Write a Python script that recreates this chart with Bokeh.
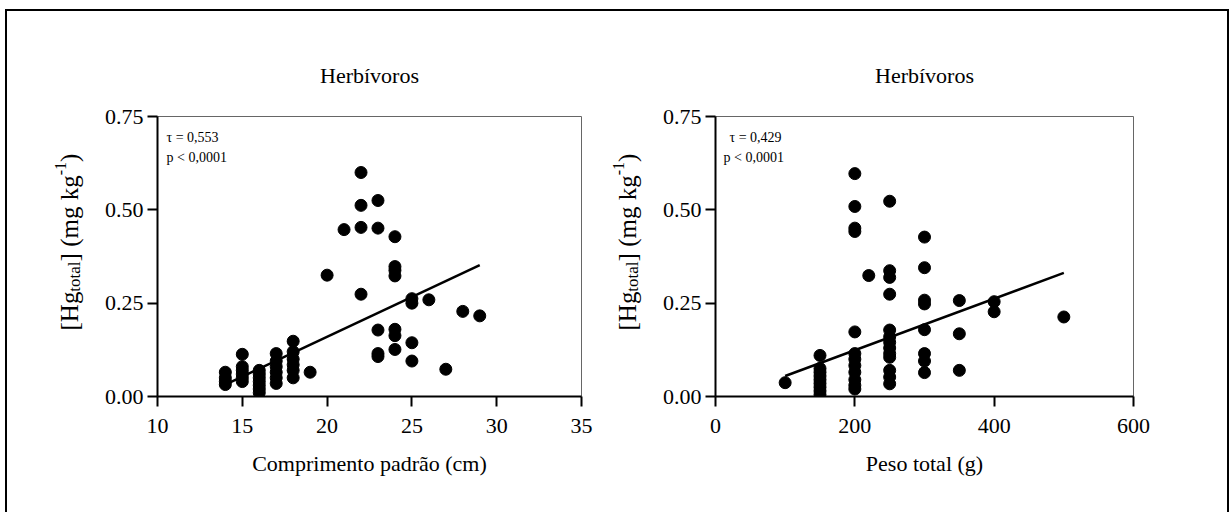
import math

from bokeh.embed import file_html
from bokeh.layouts import row
from bokeh.models import FixedTicker, Label, NumeralTickFormatter, Range1d
from bokeh.plotting import figure
from bokeh.resources import INLINE

FONT = "Liberation Serif"
CANVAS_H = 503
B_TOP = 105
B_BOTTOM = 118

# --- Herbívoros: Hg total vs. comprimento padrão (cm) ---
comp_x = [14, 14, 14, 14,
          15, 15, 15, 15, 15, 15,
          16, 16, 16, 16, 16, 16, 16,
          17, 17, 17, 17, 17, 17,
          18, 18, 18, 18, 18, 18,
          19, 20, 21,
          22, 22, 22, 22,
          23, 23, 23, 23, 23,
          24, 24, 24, 24, 24, 24, 24,
          25, 25, 25, 25,
          26, 27, 28, 29]
comp_hg = [0.065, 0.050, 0.040, 0.032,
           0.113, 0.080, 0.070, 0.060, 0.050, 0.040,
           0.070, 0.060, 0.050, 0.040, 0.030, 0.020, 0.010,
           0.115, 0.095, 0.080, 0.065, 0.050, 0.035,
           0.148, 0.120, 0.100, 0.085, 0.070, 0.050,
           0.065, 0.325, 0.447,
           0.600, 0.512, 0.453, 0.274,
           0.525, 0.451, 0.178, 0.115, 0.107,
           0.428, 0.348, 0.338, 0.323, 0.180, 0.163, 0.126,
           0.262, 0.250, 0.144, 0.095,
           0.259, 0.073, 0.228, 0.216]
comp_fit_x = [14, 29]
comp_fit_hg = [0.032, 0.352]

# --- Herbívoros: Hg total vs. peso total (g) ---
peso_x = [100,
          150, 150, 150, 150, 150, 150, 150, 150, 150,
          200, 200, 200, 200, 200, 200, 200, 200, 200, 200, 200, 200,
          220,
          250, 250, 250, 250, 250, 250, 250, 250, 250, 250, 250, 250, 250,
          300, 300, 300, 300, 300, 300, 300, 300,
          350, 350, 350,
          400, 400,
          500]
peso_hg = [0.037,
           0.110, 0.075, 0.065, 0.055, 0.045, 0.035, 0.025, 0.015, 0.005,
           0.597, 0.509, 0.451, 0.442, 0.173, 0.115, 0.100, 0.083, 0.065, 0.045, 0.030, 0.020,
           0.324,
           0.523, 0.337, 0.319, 0.274, 0.178, 0.160, 0.145, 0.130, 0.115, 0.105, 0.070, 0.052, 0.034,
           0.427, 0.345, 0.258, 0.248, 0.179, 0.115, 0.095, 0.064,
           0.257, 0.168, 0.070,
           0.254, 0.227,
           0.213]
peso_fit_x = [100, 500]
peso_fit_hg = [0.055, 0.331]

y_ticks = [0.0, 0.25, 0.50, 0.75]
comp_ticks = [10, 15, 20, 25, 30, 35]
peso_ticks = [0, 200, 400, 600]

titles = ["Herbívoros", "Herbívoros"]
x_labels = ["Comprimento padrão (cm)", "Peso total (g)"]
stats_left = ["τ = 0,553", "p < 0,0001"]
stats_right = ["τ = 0,429", "p < 0,0001"]

# Times advance widths (per 1000 em) for the pieces of the y-axis label
ADV = {'[': 333, 'H': 722, 'g': 500, 't': 278, 'o': 500, 'a': 444, 'l': 278,
       ']': 333, ' ': 250, '(': 333, 'm': 778, 'k': 500, '-': 333, '1': 500,
       ')': 333}


def text_width(s, size):
    return sum(ADV.get(c, 500) for c in s) * size / 1000.0


def ylabel_strip(width, base_x, start_y):
    """Narrow canvas carrying the rotated label [Hg_total] (mg kg^-1)."""
    s = figure(width=width, height=CANVAS_H, x_range=Range1d(0, 1), y_range=Range1d(0, 1),
               x_axis_type=None, y_axis_type=None, output_backend="svg",
               toolbar_location=None, min_border=0,
               min_border_top=B_TOP, min_border_bottom=B_BOTTOM)
    s.grid.visible = False
    s.outline_line_color = None
    s.background_fill_color = "white"
    s.border_fill_color = "white"
    pieces = [("[Hg", 25, 0), ("total", 17, 5), ("] (mg kg", 25, 0),
              ("-1", 16, -9), (")", 25, 0)]
    y = start_y
    for txt, size, shift in pieces:
        s.add_layout(Label(x=base_x + shift, y=y, x_units="screen", y_units="screen",
                           text=txt, angle=math.pi / 2, text_align="left",
                           text_baseline="alphabetic", text_font=FONT,
                           text_font_size=f"{size}px", text_color="black"))
        y += text_width(txt, size)
    return s


def make_panel(xs, ys, fx, fy, x_range, x_ticks, width, frame_w, b_left,
               title, xlabel, stats, stats_dx):
    b_right = width - b_left - frame_w
    frame_h = CANVAS_H - B_TOP - B_BOTTOM
    p = figure(width=width, height=CANVAS_H, x_range=Range1d(*x_range),
               y_range=Range1d(0, 0.75), output_backend="svg",
               toolbar_location=None, min_border=0,
               min_border_left=b_left, min_border_right=b_right,
               min_border_top=B_TOP, min_border_bottom=B_BOTTOM)
    p.grid.visible = False
    p.outline_line_color = "#666666"
    p.outline_line_width = 1
    p.background_fill_color = "white"
    p.border_fill_color = "white"

    p.title.text = title
    p.title.align = "center"
    p.title.text_font = FONT
    p.title.text_font_size = "22px"
    p.title.text_font_style = "normal"
    p.title.text_color = "black"
    p.title.standoff = 57

    p.scatter(xs, ys, size=12, color="black")
    p.line(fx, fy, line_width=2.5, color="black")

    for ax in (p.xaxis[0], p.yaxis[0]):
        ax.axis_line_width = 2
        ax.axis_line_color = "black"
        ax.major_tick_in = 0
        ax.major_tick_out = 10
        ax.major_tick_line_width = 2
        ax.major_tick_line_color = "black"
        ax.minor_tick_line_color = None
        ax.major_label_text_font = FONT
        ax.major_label_text_font_size = "22px"
        ax.major_label_text_color = "black"

    p.xaxis.ticker = FixedTicker(ticks=x_ticks)
    p.xaxis.major_label_standoff = 12
    p.xaxis.axis_label = xlabel
    p.xaxis.axis_label_text_font = FONT
    p.xaxis.axis_label_text_font_size = "22px"
    p.xaxis.axis_label_text_font_style = "normal"
    p.xaxis.axis_label_text_color = "black"
    p.xaxis.axis_label_standoff = 15

    p.yaxis.ticker = FixedTicker(ticks=y_ticks)
    p.yaxis.formatter = NumeralTickFormatter(format="0.00")
    p.yaxis.major_label_standoff = 4

    for i, s in enumerate(stats):
        p.add_layout(Label(x=stats_dx[i], y=frame_h - 21 - 20 * i, x_units="screen",
                           y_units="screen", text=s, text_align="left",
                           text_baseline="alphabetic", text_font=FONT,
                           text_font_size="14px", text_color="black"))
    return p


lab_left = ylabel_strip(90, 62, 66)
left = make_panel(comp_x, comp_hg, comp_fit_x, comp_fit_hg, (10, 35), comp_ticks,
                  width=503, frame_w=424, b_left=60,
                  title=titles[0], xlabel=x_labels[0], stats=stats_left,
                  stats_dx=[9, 9])
lab_right = ylabel_strip(55, 27, 66)
right = make_panel(peso_x, peso_hg, peso_fit_x, peso_fit_hg, (0, 600), peso_ticks,
                   width=572, frame_w=418, b_left=60,
                   title=titles[1], xlabel=x_labels[1], stats=stats_right,
                   stats_dx=[14, 8])

layout = row(lab_left, left, lab_right, right, margin=(9, 0, 0, 5),
             styles={"border": "2px solid black"})

open("out.html", "w").write(file_html(layout, INLINE))
